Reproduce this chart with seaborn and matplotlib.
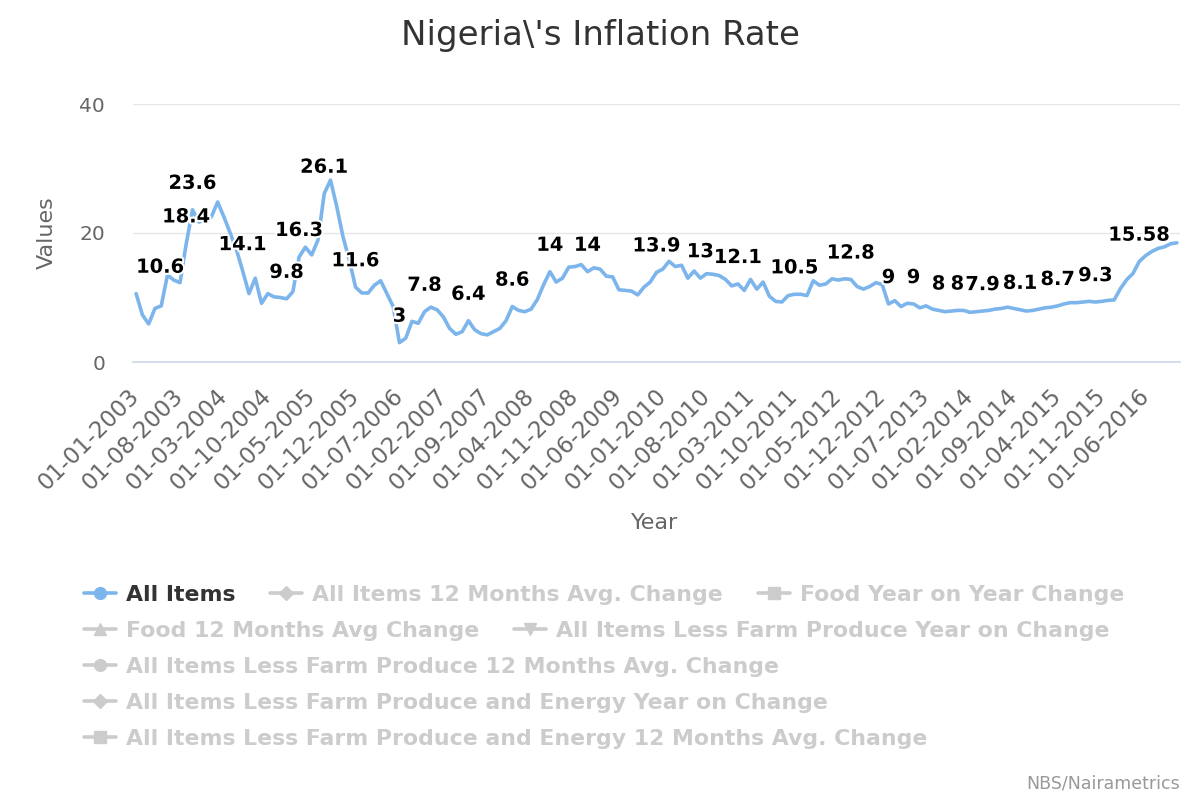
import numpy as np
import pandas as pd
import matplotlib
matplotlib.use('Agg')
import matplotlib.pyplot as plt
import matplotlib.patheffects as pe
from matplotlib.lines import Line2D
import seaborn as sns

sns.set_style('white')
plt.rcParams['font.family'] = ['DejaVu Sans']

# monthly inflation rate (%)
infl_2003 = [10.6, 7.3, 5.9, 8.3, 8.7, 13.5, 12.7, 12.3, 18.4, 23.6, 21.7, 22.0]
infl_2004 = [22.5, 24.8, 22.5, 20.0, 17.4, 14.1, 10.6, 13.0, 9.1, 10.6, 10.1, 10.0]
infl_2005 = [9.8, 10.9, 16.3, 17.8, 16.6, 18.9, 26.1, 28.2, 24.1, 19.4, 15.8, 11.6]
infl_2006 = [10.7, 10.7, 11.9, 12.6, 10.6, 8.6, 3.0, 3.7, 6.3, 6.0, 7.8, 8.5]
infl_2007 = [8.1, 7.0, 5.2, 4.3, 4.7, 6.4, 5.0, 4.4, 4.2, 4.7, 5.2, 6.4]
infl_2008 = [8.6, 8.0, 7.8, 8.2, 9.7, 12.0, 14.0, 12.4, 13.0, 14.7, 14.8, 15.1]
infl_2009 = [14.0, 14.6, 14.4, 13.3, 13.2, 11.2, 11.1, 11.0, 10.4, 11.6, 12.4, 13.9]
infl_2010 = [14.4, 15.6, 14.8, 15.0, 13.0, 14.1, 13.0, 13.7, 13.6, 13.4, 12.8, 11.8]
infl_2011 = [12.1, 11.1, 12.8, 11.3, 12.4, 10.2, 9.4, 9.3, 10.3, 10.5, 10.5, 10.3]
infl_2012 = [12.6, 11.9, 12.1, 12.9, 12.7, 12.9, 12.8, 11.7, 11.3, 11.7, 12.3, 12.0]
infl_2013 = [9.0, 9.5, 8.6, 9.1, 9.0, 8.4, 8.7, 8.2, 8.0, 7.8, 7.9, 8.0]
infl_2014 = [8.0, 7.7, 7.8, 7.9, 8.0, 8.2, 8.3, 8.5, 8.3, 8.1, 7.9, 8.0]
infl_2015 = [8.2, 8.4, 8.5, 8.7, 9.0, 9.2, 9.2, 9.3, 9.4, 9.3, 9.4, 9.55]
infl_2016 = [9.62, 11.38, 12.77, 13.72, 15.58, 16.48, 17.13, 17.61, 17.85, 18.33, 18.48]

values = (infl_2003 + infl_2004 + infl_2005 + infl_2006 + infl_2007 + infl_2008 + infl_2009
          + infl_2010 + infl_2011 + infl_2012 + infl_2013 + infl_2014 + infl_2015 + infl_2016)

dates = pd.date_range('2003-01-01', periods=len(values), freq='MS')
df = pd.DataFrame({'pos': np.arange(len(values)), 'date': dates, 'value': values})

# points whose value label is visible
label_pos = [0, 8, 9, 17, 24, 26, 30, 35, 42, 46, 53, 60, 66, 72, 83, 90, 96, 105,
             114, 120, 124, 128, 131, 135, 141, 147, 153, 160]

legend_rows = [
    ['All Items', 'All Items 12 Months Avg. Change', 'Food Year on Year Change'],
    ['Food 12 Months Avg Change', 'All Items Less Farm Produce Year on Change'],
    ['All Items Less Farm Produce 12 Months Avg. Change'],
    ['All Items Less Farm Produce and Energy Year on Change'],
    ['All Items Less Farm Produce and Energy 12 Months Avg. Change'],
]
legend_markers = ['o', 'D', 's', '^', 'v', 'o', 'D', 's']

blue = '#7cb5ec'
grey_txt = '#666666'

fig = plt.figure(figsize=(12, 8), dpi=100)
ax = fig.add_axes([133/1200, 1 - 362/800, (1180 - 133)/1200, (362 - 104)/800])

sns.lineplot(data=df, x='pos', y='value', color=blue, linewidth=2.6, ax=ax)

# data labels
for p in label_pos:
    v = df['value'][p]
    ha = 'left' if p == 0 else 'center'
    ax.annotate(f'{v:g}', (p, v), xytext=(0, 19), textcoords='offset points',
                ha=ha, va='center', fontsize=14, fontweight='bold', color='black',
                path_effects=[pe.withStroke(linewidth=3, foreground='white')])

ax.set_xlim(-0.5, len(values) - 0.5)
ax.set_ylim(0, 40)
ax.set_yticks([0, 20, 40])
ax.grid(axis='y', color='#e6e6e6', linewidth=1)
ax.set_axisbelow(True)
for s in ['top', 'right', 'left']:
    ax.spines[s].set_visible(False)
ax.spines['bottom'].set_color('#ccd6eb')
ax.spines['bottom'].set_linewidth(1.2)

tick_pos = df['pos'][::7]
ax.set_xticks(tick_pos)
ax.set_xticklabels(df['date'][::7].dt.strftime('%d-%m-%Y'), rotation=45, ha='right',
                   va='center', rotation_mode='anchor', fontsize=16.5, color=grey_txt)
ax.tick_params(axis='x', length=14, width=1.2, color='#ccd6eb', pad=8)
ax.tick_params(axis='y', length=0, labelsize=14.5, labelcolor=grey_txt, pad=20)

ax.set_xlabel('Year', fontsize=16, color=grey_txt)
ax.xaxis.set_label_coords((655 - 133)/1047, (362 - 523)/258)
ax.xaxis.label.set_va('center')
ax.set_ylabel('Values', fontsize=16, color=grey_txt)
ax.yaxis.set_label_coords((47 - 133)/1047, 0.5)
ax.yaxis.label.set_va('center')

fig.text(0.5, 1 - 35/800, "Nigeria\\'s Inflation Rate", ha='center', va='center',
         fontsize=24.5, color='#333333')

# legend, one row at a time
row_y = [595, 631, 667, 703, 739]
k = 0
for row, y in zip(legend_rows, row_y):
    handles = []
    colors = []
    for name in row:
        c = blue if k == 0 else '#cccccc'
        handles.append(Line2D([], [], color=c, linewidth=2.6, marker=legend_markers[k],
                              markersize=8.5 if legend_markers[k] != 'D' else 7))
        colors.append('#333333' if k == 0 else '#cccccc')
        k += 1
    leg = fig.legend(handles, row, loc='center left', bbox_to_anchor=(84/1200, 1 - y/800),
                     ncol=len(row), frameon=False, borderaxespad=0, borderpad=0,
                     handlelength=1.45, handletextpad=0.45, columnspacing=1.6,
                     prop={'size': 15.8, 'weight': 'bold'})
    for t, c in zip(leg.get_texts(), colors):
        t.set_color(c)

fig.text(1180/1200, 1 - 783/800, 'NBS/Nairametrics', ha='right', va='center',
         fontsize=12.5, color='#999999')

plt.savefig('out.png', dpi=100)
